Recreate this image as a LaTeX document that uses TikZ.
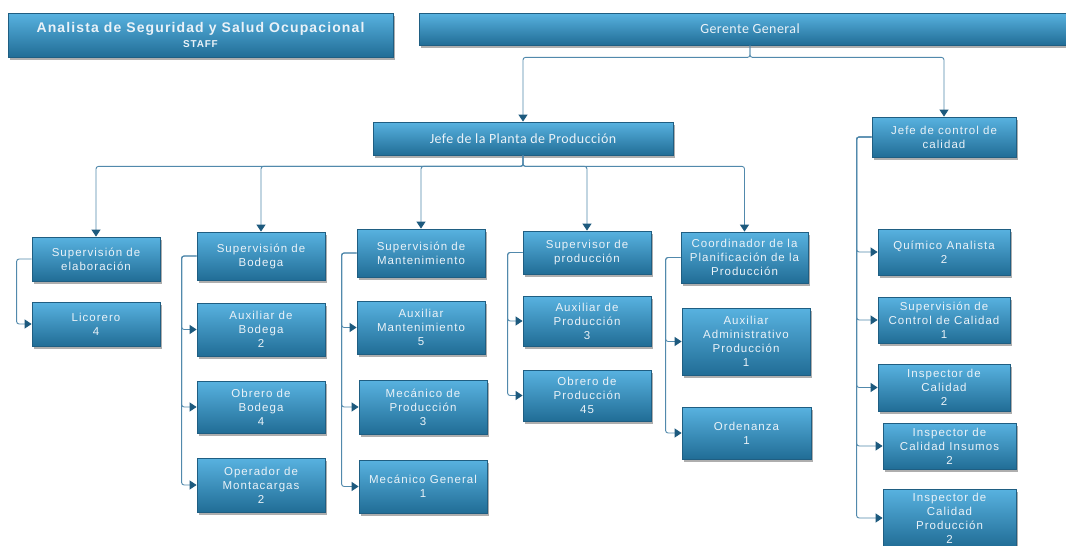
\documentclass[tikz,border=0pt]{standalone}
\usepackage{fontspec}
\setmainfont{Liberation Sans}
\newfontfamily\carl{Carlito}
\usetikzlibrary{arrows.meta,shadows}
\definecolor{boxtop}{HTML}{58B2E0}
\definecolor{boxmid}{HTML}{3B92C3}
\definecolor{boxbot}{HTML}{216D96}
\definecolor{boxline}{HTML}{1F5E82}
\definecolor{lnk}{HTML}{5189AC}
\definecolor{tipc}{HTML}{1D5A7E}
\definecolor{txt}{HTML}{EAF2F8}
\tikzset{
  box/.style={draw=boxline, line width=0.8pt, top color=boxtop, middle color=boxmid, bottom color=boxbot,
    text=txt, align=center, inner sep=0pt,
    font=\fontsize{11.5}{14}\selectfont\addfontfeatures{LetterSpace=9},
    drop shadow={shadow xshift=2pt, shadow yshift=-2.5pt, opacity=0.45, fill=black!70}},
  wh/.style 2 args={minimum width=#1pt, minimum height=#2pt},
  conn/.style={draw=lnk, line width=0.9pt, rounded corners=2.5pt,
    -{Triangle[length=7pt,width=9pt,color=tipc]}},
}
\begin{document}
\begin{tikzpicture}[x=1pt,y=-1pt]
\fill[white] (0,0) rectangle (1066,546);
\useasboundingbox (0,0) rectangle (1066,546);

% top
\node[box, wh={385}{44}, font=\bfseries\fontsize{14}{15}\selectfont\addfontfeatures{LetterSpace=8}] (analista) at (200.5,35)
  {Analista de Seguridad y Salud Ocupacional\\{\fontsize{10}{12}\selectfont STAFF}};
\node[box, wh={662}{32}, font=\carl\fontsize{14}{16}\selectfont\addfontfeatures{LetterSpace=3}] (gerente) at (750,29) {Gerente General};
\node[box, wh={300}{33}, font=\carl\fontsize{14}{16}\selectfont\addfontfeatures{LetterSpace=3}] (planta) at (523,138.5) {Jefe de la Planta de Producción};
\node[box, wh={144}{40}] (control) at (944,137) {Jefe de control de\\calidad};

% level 2
\node[box, wh={128}{44}] (elab) at (96,259) {Supervisión de\\elaboración};
\node[box, wh={128}{44}] (licorero) at (96,324) {Licorero\\4};

\node[box, wh={128}{48}] (bodega) at (261,256) {Supervisión de\\Bodega};
\node[box, wh={128}{53}] (auxbod) at (261,329.5) {Auxiliar de\\Bodega\\2};
\node[box, wh={128}{52}] (obrbod) at (261,407) {Obrero de\\Bodega\\4};
\node[box, wh={128}{54}] (oper) at (261,485) {Operador de\\Montacargas\\2};

\node[box, wh={128}{48}] (mant) at (421,253) {Supervisión de\\Mantenimiento};
\node[box, wh={128}{53}] (auxmant) at (421,327.5) {Auxiliar\\Mantenimiento\\5};
\node[box, wh={128}{54}] (mecprod) at (423,407) {Mecánico de\\Producción\\3};
\node[box, wh={128}{53}] (mecgen) at (423,486.5) {Mecánico General\\1};

\node[box, wh={128}{43}] (supprod) at (587,252.5) {Supervisor de\\producción};
\node[box, wh={128}{50}] (auxprod) at (587,321) {Auxiliar de\\Producción\\3};
\node[box, wh={128}{51}] (obrprod) at (587,395.5) {Obrero de\\Producción\\45};

\node[box, wh={127}{51}] (coord) at (744.5,257.5) {Coordinador de la\\Planificación de la\\Producción};
\node[box, wh={128}{67}] (auxadm) at (746,341.5) {Auxiliar\\Administrativo\\Producción\\1};
\node[box, wh={129}{52}] (orden) at (746.5,433) {Ordenanza\\1};

\node[box, wh={132}{46}] (quim) at (944,252) {Químico Analista\\2};
\node[box, wh={132}{46}] (supcal) at (944,320) {Supervisión de\\Control de Calidad\\1};
\node[box, wh={132}{47}] (inspcal) at (944,387.5) {Inspector de\\Calidad\\2};
\node[box, wh={133}{46}] (inspins) at (949.5,446) {Inspector de\\Calidad Insumos\\2};
\node[box, wh={133}{58}] (insppro) at (949.5,518) {Inspector de\\Calidad\\Producción\\2};

% connectors from top
\draw[conn] (gerente.south) -- ++(0,12) -| (planta.north);
\draw[conn] (gerente.south) -- ++(0,12) -| (control.north);
\foreach \n in {elab,bodega,mant,supprod,coord}
  \draw[conn] (planta.south) -- ++(0,11) -| (\n.north);

% side bars
\draw[conn] (elab.west) -- ++(-15,0) |- (licorero.west);
\foreach \n in {auxbod,obrbod,oper}
  \draw[conn] (bodega.west) -- ++(-15,0) |- (\n.west);
\foreach \n in {auxmant,mecprod,mecgen}
  \draw[conn] (mant.west) -- ++(-15,0) |- (\n.west);
\foreach \n in {auxprod,obrprod}
  \draw[conn] (supprod.west) -- ++(-15,0) |- (\n.west);
\foreach \n in {auxadm,orden}
  \draw[conn] (coord.west) -- ++(-15,0) |- (\n.west);
\foreach \n in {quim,supcal,inspcal,inspins,insppro}
  \draw[conn] (control.west) -- ++(-15,0) |- (\n.west);
\end{tikzpicture}
\end{document}
